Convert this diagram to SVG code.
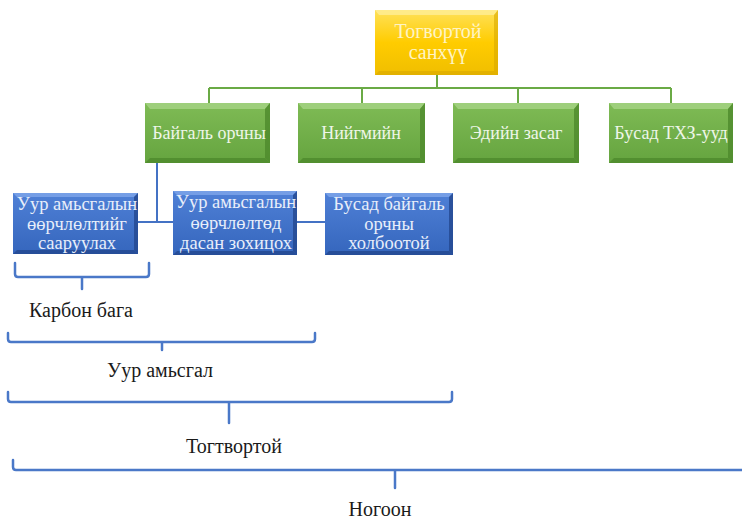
<svg xmlns="http://www.w3.org/2000/svg" width="742" height="522" viewBox="0 0 742 522">
<defs>
<linearGradient id="gy" x1="0" y1="0" x2="0" y2="1"><stop offset="0" stop-color="#ffe15a"/><stop offset="0.5" stop-color="#ffcc00"/><stop offset="1" stop-color="#f0be00"/></linearGradient>
<linearGradient id="gg" x1="0" y1="0" x2="0" y2="1"><stop offset="0" stop-color="#7fbb55"/><stop offset="1" stop-color="#65a43f"/></linearGradient>
<linearGradient id="gb" x1="0" y1="0" x2="0" y2="1"><stop offset="0" stop-color="#4f80d6"/><stop offset="1" stop-color="#3566bd"/></linearGradient>
</defs>
<style>
text{font-family:'Liberation Serif','DejaVu Serif',serif;text-anchor:middle}
.t{fill:#fff4c4;font-size:20px}
.w{fill:#eef6e8;font-size:18px}
.b{fill:#e8eefa;font-size:18.5px}
.k{fill:#1a1a1a;font-size:20px}
.lg{stroke:#6aaa45;stroke-width:2;fill:none}
.lb{stroke:#4472c4;stroke-width:2;fill:none}
.br{stroke:#4a78c8;stroke-width:2.5;fill:none;stroke-linecap:round;stroke-linejoin:round}
.hy{fill:#fff0a0;opacity:.7}
.hg{fill:#a6d486;opacity:.8}
.dg{fill:#4e8a2c;opacity:.8}
.hb{fill:#7fa6ea;opacity:.8}
.db{fill:#23478f;opacity:.8}
</style>
<g id="connectors">
<path class="lg" d="M437,75 V88 M209,88 H671 M209,88 V103 M362,88 V103 M518,88 V103 M671,88 V103"/>
<path class="lb" d="M157,163 V222 M138,222 H173 M297,222 H325"/>
</g>
<g id="n-top">
<rect x="375" y="10" width="123" height="65" fill="url(#gy)"/>
<polygon class="hy" points="375,10 498,10 494,15 379,15"/>
<polygon fill="#d9a800" opacity=".6" points="498,10 498,75 494,71 494,15"/>
<polygon fill="#d9a800" opacity=".6" points="375,75 498,75 494,71 379,71"/>
<text class="t" x="438" y="38">Тогвортой</text>
<text class="t" x="438" y="59">санхүү</text>
</g>
<g id="n-env">
<rect x="145" y="103" width="125" height="60" fill="url(#gg)"/>
<polygon class="hg" points="145,103 270,103 265,109 150,109"/>
<polygon class="dg" points="270,103 270,163 265,158 265,109"/>
<polygon class="dg" points="145,163 270,163 265,158 150,158"/>
<text class="w" x="209" y="139">Байгаль орчны</text>
</g>
<g id="n-soc">
<rect x="298" y="103" width="127" height="60" fill="url(#gg)"/>
<polygon class="hg" points="298,103 425,103 420,109 303,109"/>
<polygon class="dg" points="425,103 425,163 420,158 420,109"/>
<polygon class="dg" points="298,163 425,163 420,158 303,158"/>
<text class="w" x="361" y="139">Нийгмийн</text>
</g>
<g id="n-eco">
<rect x="453" y="103" width="126" height="60" fill="url(#gg)"/>
<polygon class="hg" points="453,103 579,103 574,109 458,109"/>
<polygon class="dg" points="579,103 579,163 574,158 574,109"/>
<polygon class="dg" points="453,163 579,163 574,158 458,158"/>
<text class="w" x="516" y="139">Эдийн засаг</text>
</g>
<g id="n-sdg">
<rect x="609" y="103" width="124" height="60" fill="url(#gg)"/>
<polygon class="hg" points="609,103 733,103 728,109 614,109"/>
<polygon class="dg" points="733,103 733,163 728,158 728,109"/>
<polygon class="dg" points="609,163 733,163 728,158 614,158"/>
<text class="w" x="671" y="139">Бусад ТХЗ-ууд</text>
</g>
<g id="n-mit">
<rect x="13" y="193" width="125" height="61" fill="url(#gb)"/>
<polygon class="hb" points="13,193 138,193 134,197 17,197"/>
<polygon class="db" points="138,193 138,254 134,250 134,197"/>
<polygon class="db" points="13,254 138,254 134,250 17,250"/>
<text class="b" x="77" y="210">Уур амьсгалын</text>
<text class="b" x="77" y="230">өөрчлөлтийг</text>
<text class="b" x="77" y="249">сааруулах</text>
</g>
<g id="n-ada">
<rect x="173" y="191" width="124" height="64" fill="url(#gb)"/>
<polygon class="hb" points="173,191 297,191 293,195 177,195"/>
<polygon class="db" points="297,191 297,255 293,251 293,195"/>
<polygon class="db" points="173,255 297,255 293,251 177,251"/>
<text class="b" x="236" y="208">Уур амьсгалын</text>
<text class="b" x="236" y="229">өөрчлөлтөд</text>
<text class="b" x="236" y="249">дасан зохицох</text>
</g>
<g id="n-oth">
<rect x="325" y="193" width="128" height="62" fill="url(#gb)"/>
<polygon class="hb" points="325,193 453,193 449,197 329,197"/>
<polygon class="db" points="453,193 453,255 449,251 449,197"/>
<polygon class="db" points="325,255 453,255 449,251 329,251"/>
<text class="b" x="389" y="210">Бусад байгаль</text>
<text class="b" x="389" y="230">орчны</text>
<text class="b" x="389" y="249">холбоотой</text>
</g>
<g id="brackets">
<path class="br" d="M15,263 V274 Q15,277 18,277 H146 Q149,277 149,274 V263 M82,277 V289"/>
<path class="br" d="M8,333 V339 Q8,342 11,342 H312 Q315,342 315,339 V333 M162,342 V350"/>
<path class="br" d="M8,392 V399 Q8,402 11,402 H449 Q452,402 452,399 V392 M229,402 V423"/>
<path class="br" d="M13,460 V467 Q13,470 16,470 H745 M395,470 V488"/>
</g>
<g id="labels">
<text class="k" x="81" y="317">Карбон бага</text>
<text class="k" x="160" y="377">Уур амьсгал</text>
<text class="k" x="234" y="453">Тогтвортой</text>
<text class="k" x="380" y="516">Ногоон</text>
</g>
</svg>
